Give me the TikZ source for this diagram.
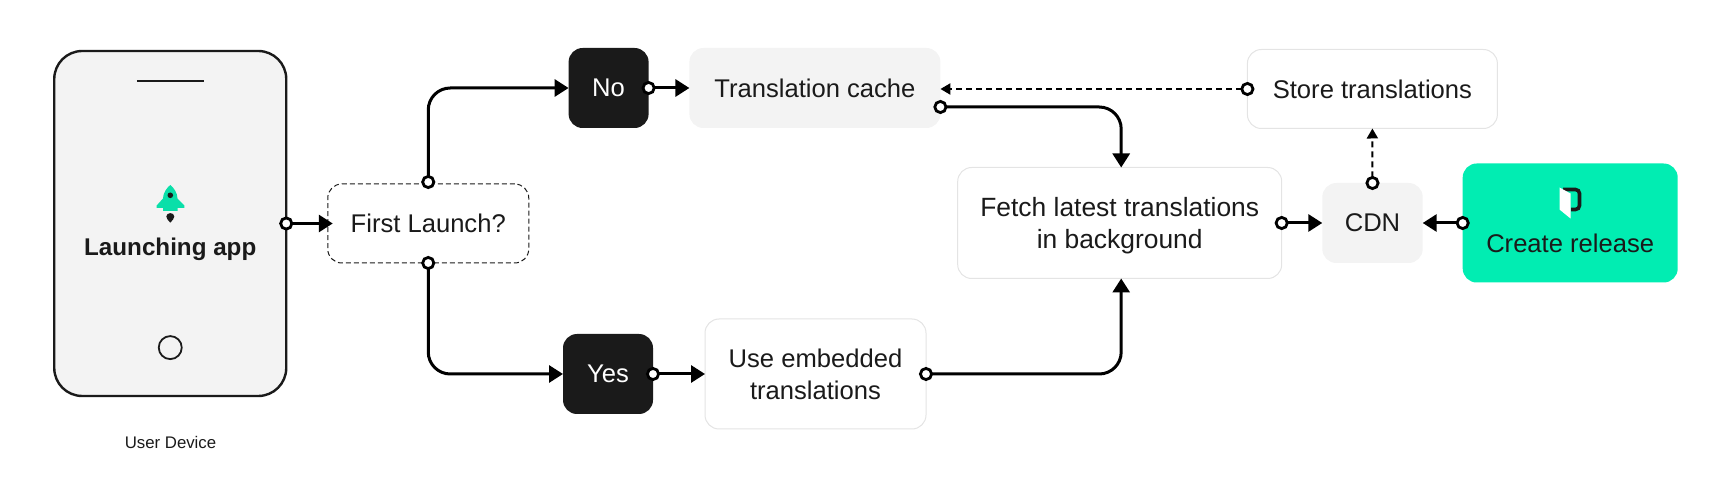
\documentclass[tikz,border=0pt]{standalone}
\usepackage{fontspec}
\setmainfont{Liberation Sans}
\usetikzlibrary{positioning, arrows.meta}
\definecolor{ink}{HTML}{1A1A1A}
\definecolor{paper}{HTML}{F3F3F3}
\definecolor{edge}{HTML}{E4E4E4}
\definecolor{mint}{HTML}{01EDB2}
\definecolor{rocket}{HTML}{0ADFA9}
\tikzset{
    box/.style={
        rectangle,
        minimum height=40pt,
        rounded corners=7pt,
        inner sep=0pt,
        outer sep=0pt,
        align=center,
        text=ink,
        font=\fontsize{12.8}{16}\selectfont,
    },
    plain/.style={box, draw=edge, line width=0.5pt, fill=white},
    soft/.style={box, fill=paper},
    dark/.style={box, fill=ink, text=white},
    flow/.style={
        draw=black,
        line width=1.5pt,
        rounded corners=11pt,
        shorten <=-3.5pt,
        {Circle[fill=white, length=7pt, line width=1.4pt]}-{Triangle[length=7pt, width=8.5pt]},
    },
    sync/.style={
        draw=black,
        line width=1pt,
        dash pattern=on 3pt off 2pt,
        shorten <=-3.5pt,
        {Circle[fill=white, length=7pt, line width=1.4pt]}-{Triangle[length=5pt, width=5.5pt]},
    },
}

\begin{document}
\begin{tikzpicture}[x=0.5pt, y=-0.5pt]
        \useasboundingbox (0,0) rectangle (1731,502);
        \node[box, fill=paper, draw=ink, line width=1.2pt, minimum width=116pt, minimum height=172.5pt, rounded corners=14pt] (phone) at (170.25,223.5) {};
        \draw[ink, line width=1.2pt] ([xshift=-16.75pt, yshift=-15pt]phone.north) -- ([xshift=16.75pt, yshift=-15pt]phone.north);
        \node[draw=ink, circle, line width=0.9pt, minimum size=11.5pt, inner sep=0pt, above=18pt of phone.south] (home) {};
        \node[box, minimum height=0pt, font=\fontsize{12.1}{16}\selectfont\bfseries, at={([yshift=-13.1pt]phone.center)}] (launching) {Launching app};
        \node[box, minimum height=0pt, font=\fontsize{8.4}{10}\selectfont, at={(170.5,442)}] (device) {User Device};
        % rocket
        \fill[rocket] (170.3,185) .. controls (167,187.5) and (163,193) .. (163,198.5) -- (156.7,205.5) -- (156.7,208) -- (163,208) -- (163,211) -- (177.5,211) -- (177.5,208) -- (184.3,208) -- (184.3,205.5) -- (177.5,198.5) .. controls (177.5,193) and (173.6,187.5) .. (170.3,185) -- cycle;
        \fill[ink] (170.3,195.3) circle (1.4pt);
        \fill[ink] (170.3,222.7) .. controls (168,220) and (166.3,218.5) .. (166.3,216.5) .. controls (166.3,212) and (174.3,212) .. (174.3,216.5) .. controls (174.3,218.5) and (172.6,220) .. (170.3,222.7) -- cycle;

        \node[box, draw=ink, line width=0.5pt, dash pattern=on 2.5pt off 1.5pt, minimum width=100.5pt, minimum height=39.5pt, right=20.75pt of phone] (launch) {First Launch?};
        \node[dark, minimum width=40pt, at={(608.6,88)}] (no) {No};
        \node[soft, minimum width=125.5pt, right=20.4pt of no] (cache) {Translation cache};
        \node[plain, minimum width=125pt, minimum height=39.5pt, right=153.5pt of cache, yshift=-0.5pt] (store) {Store translations};
        \node[dark, minimum width=45pt, at={(608,374)}] (yes) {Yes};
        \node[plain, minimum width=110.5pt, minimum height=55pt, right=26pt of yes] (embedded) {Use embedded\\translations};
        \node[plain, minimum width=162pt, minimum height=55.5pt, text depth=0pt, font=\fontsize{13.2}{16}\selectfont, at={(1119.7,223)}] (fetch) {Fetch latest translations\\in background};
        \node[soft, minimum width=50.2pt, right=20.3pt of fetch] (cdn) {CDN};
        \node[box, fill=mint, minimum width=107.5pt, minimum height=59.5pt, right=20pt of cdn] (release) {};
        \node[box, minimum height=0pt, at={([yshift=-10pt]release.center)}] (releasetext) {Create release};
        % logo
        \draw[ink, line width=1.8pt, rounded corners=2pt] (1563,189.5) -- (1579.5,189.5) -- (1579.5,209.5) -- (1571,209.5);
        \fill[white] (1559.5,187.5) -- (1570.5,193.5) -- (1570.5,218.5) -- (1559.5,209.5) -- cycle;

        \draw[flow, shorten >=-2.5pt] (phone.east) -- (launch.west);
        \draw[flow] ([yshift=1pt]launch.north) |- (no.west);
        \draw[flow] (launch.south) |- (yes.west);
        \draw[flow] (no.east) -- (cache.west);
        \draw[flow] (yes.east) -- (embedded.west);
        \draw[flow] ([yshift=-9.5pt]cache.east) -| ([xshift=0.75pt]fetch.north);
        \draw[flow] (embedded.east) -| ([xshift=0.75pt]fetch.south);
        \draw[flow] (fetch.east) -- (cdn.west);
        \draw[flow] (release.west) -- (cdn.east);
        \draw[sync] (store.west) -- (store.west -| cache.east);
        \draw[sync] (cdn.north) -- (store.south);
\end{tikzpicture}
\end{document}
